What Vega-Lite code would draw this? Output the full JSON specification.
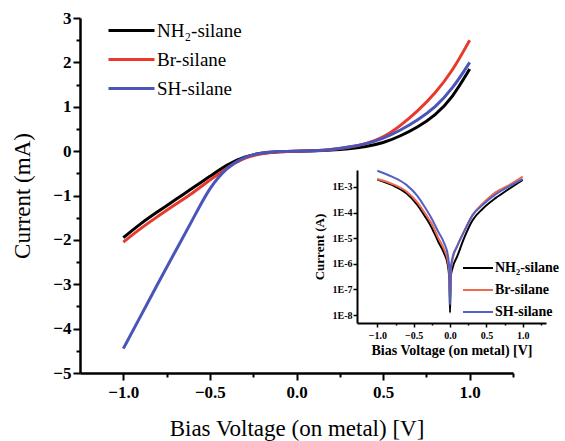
{
  "$schema": "https://vega.github.io/schema/vega-lite/v6.json",
  "width": 433,
  "height": 355,
  "autosize": {"type": "none"},
  "padding": {"left": 80, "top": 18, "right": 52, "bottom": 68},
  "background": "white",
  "view": {"stroke": null},
  "config": {
    "font": "Liberation Serif",
    "style": {"guide-label": {"font": "Liberation Serif"}, "guide-title": {"font": "Liberation Serif"}},
    "axis": {"grid": false, "domainColor": "black", "tickColor": "black", "labelColor": "black", "titleColor": "black", "labelOverlap": false, "labelFont": "Liberation Serif", "titleFont": "Liberation Serif"},
    "legend": {"labelFont": "Liberation Serif", "labelColor": "black"}
  },
  "datasets": {
    "main": [
      {"v": -1.0, "i": -1.95, "s": "NH₂-silane"}, {"v": -0.9, "i": -1.63, "s": "NH₂-silane"}, {"v": -0.8, "i": -1.36, "s": "NH₂-silane"}, {"v": -0.7, "i": -1.10, "s": "NH₂-silane"}, {"v": -0.6, "i": -0.83, "s": "NH₂-silane"}, {"v": -0.5, "i": -0.57, "s": "NH₂-silane"}, {"v": -0.4, "i": -0.30, "s": "NH₂-silane"}, {"v": -0.3, "i": -0.12, "s": "NH₂-silane"}, {"v": -0.2, "i": -0.04, "s": "NH₂-silane"}, {"v": -0.1, "i": -0.01, "s": "NH₂-silane"}, {"v": 0.0, "i": 0.0, "s": "NH₂-silane"}, {"v": 0.1, "i": 0.005, "s": "NH₂-silane"}, {"v": 0.2, "i": 0.02, "s": "NH₂-silane"}, {"v": 0.3, "i": 0.05, "s": "NH₂-silane"}, {"v": 0.4, "i": 0.10, "s": "NH₂-silane"}, {"v": 0.5, "i": 0.18, "s": "NH₂-silane"}, {"v": 0.6, "i": 0.34, "s": "NH₂-silane"}, {"v": 0.7, "i": 0.54, "s": "NH₂-silane"}, {"v": 0.8, "i": 0.80, "s": "NH₂-silane"}, {"v": 0.9, "i": 1.20, "s": "NH₂-silane"}, {"v": 1.0, "i": 1.85, "s": "NH₂-silane"},
      {"v": -1.0, "i": -2.05, "s": "Br-silane"}, {"v": -0.9, "i": -1.74, "s": "Br-silane"}, {"v": -0.8, "i": -1.47, "s": "Br-silane"}, {"v": -0.7, "i": -1.20, "s": "Br-silane"}, {"v": -0.6, "i": -0.95, "s": "Br-silane"}, {"v": -0.5, "i": -0.65, "s": "Br-silane"}, {"v": -0.4, "i": -0.37, "s": "Br-silane"}, {"v": -0.3, "i": -0.14, "s": "Br-silane"}, {"v": -0.2, "i": -0.05, "s": "Br-silane"}, {"v": -0.1, "i": -0.01, "s": "Br-silane"}, {"v": 0.0, "i": 0.0, "s": "Br-silane"}, {"v": 0.1, "i": 0.005, "s": "Br-silane"}, {"v": 0.2, "i": 0.03, "s": "Br-silane"}, {"v": 0.3, "i": 0.08, "s": "Br-silane"}, {"v": 0.4, "i": 0.16, "s": "Br-silane"}, {"v": 0.5, "i": 0.30, "s": "Br-silane"}, {"v": 0.6, "i": 0.57, "s": "Br-silane"}, {"v": 0.7, "i": 0.90, "s": "Br-silane"}, {"v": 0.8, "i": 1.30, "s": "Br-silane"}, {"v": 0.9, "i": 1.80, "s": "Br-silane"}, {"v": 1.0, "i": 2.50, "s": "Br-silane"},
      {"v": -1.0, "i": -4.45, "s": "SH-silane"}, {"v": -0.9, "i": -3.72, "s": "SH-silane"}, {"v": -0.8, "i": -2.98, "s": "SH-silane"}, {"v": -0.7, "i": -2.26, "s": "SH-silane"}, {"v": -0.6, "i": -1.55, "s": "SH-silane"}, {"v": -0.5, "i": -0.80, "s": "SH-silane"}, {"v": -0.4, "i": -0.36, "s": "SH-silane"}, {"v": -0.3, "i": -0.12, "s": "SH-silane"}, {"v": -0.2, "i": -0.03, "s": "SH-silane"}, {"v": -0.1, "i": -0.005, "s": "SH-silane"}, {"v": 0.0, "i": 0.0, "s": "SH-silane"}, {"v": 0.1, "i": 0.005, "s": "SH-silane"}, {"v": 0.2, "i": 0.03, "s": "SH-silane"}, {"v": 0.3, "i": 0.09, "s": "SH-silane"}, {"v": 0.4, "i": 0.16, "s": "SH-silane"}, {"v": 0.5, "i": 0.28, "s": "SH-silane"}, {"v": 0.6, "i": 0.47, "s": "SH-silane"}, {"v": 0.7, "i": 0.70, "s": "SH-silane"}, {"v": 0.8, "i": 0.98, "s": "SH-silane"}, {"v": 0.9, "i": 1.40, "s": "SH-silane"}, {"v": 1.0, "i": 2.00, "s": "SH-silane"}
    ],
    "inset": [
      {"v": -1.0, "a": 1.95e-3, "s": "NH₂-silane"}, {"v": -0.8, "a": 1.20e-3, "s": "NH₂-silane"}, {"v": -0.6, "a": 5.62e-4, "s": "NH₂-silane"}, {"v": -0.45, "a": 2.0e-4, "s": "NH₂-silane"}, {"v": -0.34, "a": 6.76e-5, "s": "NH₂-silane"}, {"v": -0.25, "a": 2.51e-5, "s": "NH₂-silane"}, {"v": -0.16, "a": 7.08e-6, "s": "NH₂-silane"}, {"v": -0.08, "a": 2.51e-6, "s": "NH₂-silane"}, {"v": -0.03, "a": 8.91e-7, "s": "NH₂-silane"}, {"v": -0.01, "a": 2.51e-7, "s": "NH₂-silane"}, {"v": 0.0, "a": 1.26e-8, "s": "NH₂-silane"}, {"v": 0.01, "a": 3.16e-7, "s": "NH₂-silane"}, {"v": 0.03, "a": 6.31e-7, "s": "NH₂-silane"}, {"v": 0.1, "a": 2.0e-6, "s": "NH₂-silane"}, {"v": 0.2, "a": 1.12e-5, "s": "NH₂-silane"}, {"v": 0.31, "a": 5.01e-5, "s": "NH₂-silane"}, {"v": 0.45, "a": 1.41e-4, "s": "NH₂-silane"}, {"v": 0.63, "a": 3.72e-4, "s": "NH₂-silane"}, {"v": 0.8, "a": 7.94e-4, "s": "NH₂-silane"}, {"v": 1.0, "a": 1.86e-3, "s": "NH₂-silane"},
      {"v": -1.0, "a": 2.04e-3, "s": "Br-silane"}, {"v": -0.8, "a": 1.32e-3, "s": "Br-silane"}, {"v": -0.6, "a": 6.61e-4, "s": "Br-silane"}, {"v": -0.45, "a": 2.51e-4, "s": "Br-silane"}, {"v": -0.34, "a": 8.91e-5, "s": "Br-silane"}, {"v": -0.25, "a": 3.55e-5, "s": "Br-silane"}, {"v": -0.16, "a": 1.0e-5, "s": "Br-silane"}, {"v": -0.08, "a": 3.55e-6, "s": "Br-silane"}, {"v": -0.03, "a": 1.26e-6, "s": "Br-silane"}, {"v": -0.01, "a": 3.98e-7, "s": "Br-silane"}, {"v": 0.0, "a": 5.0e-8, "s": "Br-silane"}, {"v": 0.01, "a": 5.01e-7, "s": "Br-silane"}, {"v": 0.03, "a": 1.26e-6, "s": "Br-silane"}, {"v": 0.1, "a": 5.01e-6, "s": "Br-silane"}, {"v": 0.2, "a": 2.0e-5, "s": "Br-silane"}, {"v": 0.31, "a": 7.94e-5, "s": "Br-silane"}, {"v": 0.45, "a": 2.24e-4, "s": "Br-silane"}, {"v": 0.63, "a": 6.31e-4, "s": "Br-silane"}, {"v": 0.8, "a": 1.12e-3, "s": "Br-silane"}, {"v": 1.0, "a": 2.51e-3, "s": "Br-silane"},
      {"v": -1.0, "a": 4.27e-3, "s": "SH-silane"}, {"v": -0.8, "a": 2.51e-3, "s": "SH-silane"}, {"v": -0.6, "a": 1.20e-3, "s": "SH-silane"}, {"v": -0.45, "a": 4.47e-4, "s": "SH-silane"}, {"v": -0.34, "a": 1.51e-4, "s": "SH-silane"}, {"v": -0.25, "a": 5.62e-5, "s": "SH-silane"}, {"v": -0.16, "a": 1.74e-5, "s": "SH-silane"}, {"v": -0.08, "a": 6.31e-6, "s": "SH-silane"}, {"v": -0.03, "a": 2.19e-6, "s": "SH-silane"}, {"v": -0.01, "a": 6.31e-7, "s": "SH-silane"}, {"v": 0.0, "a": 2.51e-8, "s": "SH-silane"}, {"v": 0.01, "a": 6.31e-7, "s": "SH-silane"}, {"v": 0.03, "a": 1.58e-6, "s": "SH-silane"}, {"v": 0.1, "a": 5.01e-6, "s": "SH-silane"}, {"v": 0.2, "a": 2.0e-5, "s": "SH-silane"}, {"v": 0.31, "a": 7.94e-5, "s": "SH-silane"}, {"v": 0.45, "a": 2.0e-4, "s": "SH-silane"}, {"v": 0.63, "a": 5.25e-4, "s": "SH-silane"}, {"v": 0.8, "a": 1.0e-3, "s": "SH-silane"}, {"v": 1.0, "a": 2.0e-3, "s": "SH-silane"}
    ]
  },
  "layer": [
    {
      "data": {"name": "main"},
      "mark": {"type": "line", "strokeWidth": 3, "interpolate": "basis"},
      "encoding": {
        "x": {
          "field": "v", "type": "quantitative",
          "scale": {"domain": [-1.25, 1.25], "nice": false, "zero": false},
          "axis": {
            "title": "Bias Voltage (on metal) [V]",
            "values": [-1, -0.75, -0.5, -0.25, 0, 0.25, 0.5, 0.75, 1, 1.25],
            "labelExpr": "abs(datum.value*2 - round(datum.value*2)) < 0.001 && datum.value < 1.2 ? format(datum.value, '.1f') : ''",
            "tickSize": {"condition": {"test": "abs(datum.value*2 - round(datum.value*2)) < 0.001", "value": 7}, "value": 4},
            "tickWidth": 2, "domainWidth": 2.5,
            "labelFont": "Liberation Serif", "titleFont": "Liberation Serif",
            "labelFontSize": 17, "labelFontWeight": "bold", "labelPadding": 4,
            "titleFontSize": 23, "titleFontWeight": "normal", "titlePadding": 17
          }
        },
        "y": {
          "field": "i", "type": "quantitative",
          "scale": {"domain": [-5, 3], "nice": false, "zero": false},
          "axis": {
            "title": "Current (mA)",
            "values": [-5, -4.5, -4, -3.5, -3, -2.5, -2, -1.5, -1, -0.5, 0, 0.5, 1, 1.5, 2, 2.5, 3],
            "labelExpr": "abs(datum.value - round(datum.value)) < 0.001 ? format(datum.value, 'd') : ''",
            "tickSize": {"condition": {"test": "abs(datum.value - round(datum.value)) < 0.001", "value": 7}, "value": 4},
            "tickWidth": 2, "domainWidth": 2.5,
            "labelFont": "Liberation Serif", "titleFont": "Liberation Serif",
            "labelFontSize": 17, "labelFontWeight": "bold", "labelPadding": 2,
            "titleFontSize": 23, "titleFontWeight": "normal", "titlePadding": 18
          }
        },
        "color": {
          "field": "s", "type": "nominal",
          "scale": {"domain": ["NH₂-silane", "Br-silane", "SH-silane"], "range": ["#000000", "#e8392a", "#4a55b8"]},
          "legend": {
            "orient": "none", "legendX": 40, "legendY": 1, "title": null,
            "symbolType": "M-2.3,0H2.3", "symbolSize": 400, "symbolStrokeWidth": 3,
            "labelFont": "Liberation Serif",
            "labelFontSize": 19, "labelOffset": 14, "rowPadding": 7
          }
        }
      }
    },
    {
      "data": {"name": "inset"},
      "mark": {"type": "line", "strokeWidth": 2, "interpolate": "monotone"},
      "encoding": {
        "x": {
          "field": "v", "type": "quantitative",
          "scale": {"domain": [-1.28, 1.32], "range": [277, 466], "nice": false, "zero": false},
          "axis": {
            "orient": "bottom", "offset": -50,
            "title": "Bias Voltage (on metal) [V]",
            "values": [-1, -0.75, -0.5, -0.25, 0, 0.25, 0.5, 0.75, 1, 1.25],
            "labelExpr": "abs(datum.value*2 - round(datum.value*2)) < 0.001 && datum.value < 1.2 ? format(datum.value, '.1f') : ''",
            "tickSize": {"condition": {"test": "abs(datum.value*2 - round(datum.value*2)) < 0.001", "value": 4}, "value": 2},
            "tickWidth": 1.5, "domainWidth": 2,
            "labelFont": "Liberation Serif", "titleFont": "Liberation Serif",
            "labelFontSize": 10, "labelFontWeight": "bold", "labelPadding": 3,
            "titleFontSize": 14, "titleFontWeight": "bold", "titlePadding": 3
          }
        },
        "y": {
          "field": "a", "type": "quantitative",
          "scale": {"type": "log", "domain": [4.9e-9, 4.57e-3], "range": [305, 152], "nice": false, "zero": false},
          "axis": {
            "orient": "left", "offset": -277,
            "title": "Current (A)",
            "values": [1e-8, 1e-7, 1e-6, 1e-5, 1e-4, 1e-3],
            "labelExpr": "'1E' + round(log(datum.value)/LN10)",
            "tickSize": 4, "tickWidth": 1.5, "domainWidth": 2,
            "labelFont": "Liberation Serif", "titleFont": "Liberation Serif",
            "labelFontSize": 10, "labelFontWeight": "bold", "labelPadding": 1,
            "titleFontSize": 13, "titleFontWeight": "bold", "titlePadding": 6
          }
        },
        "color": {
          "field": "s", "type": "nominal",
          "scale": {"domain": ["NH₂-silane", "Br-silane", "SH-silane"], "range": ["#000000", "#ee6a4e", "#5560c4"]},
          "legend": {
            "orient": "none", "legendX": 390, "legendY": 242, "title": null,
            "symbolType": "M-2.14,0H2.14", "symbolSize": 196, "symbolStrokeWidth": 2,
            "labelFont": "Liberation Serif",
            "labelFontSize": 14, "labelFontWeight": "bold", "labelOffset": 9, "rowPadding": 7
          }
        }
      }
    }
  ],
  "resolve": {
    "scale": {"x": "independent", "y": "independent", "color": "independent"},
    "axis": {"x": "independent", "y": "independent"},
    "legend": {"color": "independent"}
  }
}
